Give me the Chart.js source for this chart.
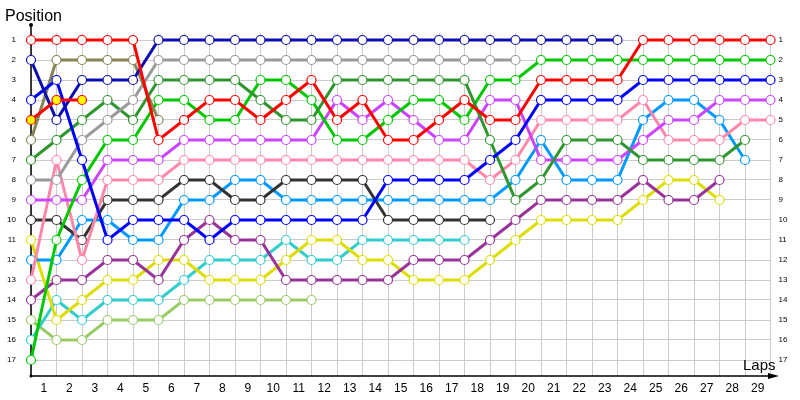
<!DOCTYPE html>
<html>
<head>
<meta charset="utf-8">
<script src="https://cdn.jsdelivr.net/npm/chart.js@4.4.1/dist/chart.umd.min.js"></script>
<style>
  html, body { margin: 0; padding: 0; background: #fff; }
</style>
</head>
<body>
<canvas id="lapChart" width="800" height="400"></canvas>
<script>
// lap index 0 = grid, 1..29 = laps
const laps = [0,1,2,3,4,5,6,7,8,9,10,11,12,13,14,15,16,17,18,19,20,21,22,23,24,25,26,27,28,29];
const positions = [1,2,3,4,5,6,7,8,9,10,11,12,13,14,15,16,17];

const red       = [1,1,1,1,1,6,5,4,4,5,4,3,5,4,6,6,5,4,5,5,3,3,3,3,1,1,1,1,1,1];
const redYellow = [5,4,4];
const navy      = [2,5,3,3,3,1,1,1,1,1,1,1,1,1,1,1,1,1,1,1,1,1,1,1];
const blue      = [4,3,7,11,10,10,10,11,10,10,10,10,10,10,8,8,8,8,7,6,4,4,4,4,3,3,3,3,3,3];
const olive     = [6,2,2,2,2,5];
const gray      = [8,8,6,5,4,2,2,2,2,2,2,2,2,2,2,2,2,2,2,2];
const darkGreen = [7,6,5,4,5,3,3,3,3,4,5,5,3,3,3,3,3,3,6,9,8,6,6,6,7,7,7,7,6];
const green     = [17,11,8,6,6,4,4,5,5,3,3,4,6,6,5,4,4,5,3,3,2,2,2,2,2,2,2,2,2,2];
const violet    = [9,9,9,7,7,7,6,6,6,6,6,6,4,5,4,5,6,6,4,4,7,7,7,7,6,5,5,4,4,4];
const pink      = [13,7,12,8,8,8,7,7,7,7,7,7,7,7,7,7,7,7,8,7,5,5,5,5,4,6,6,6,5,5];
const black     = [10,10,11,9,9,9,8,8,9,9,8,8,8,8,10,10,10,10,10];
const lightBlue = [12,12,10,10,11,11,9,9,8,8,9,9,9,9,9,9,9,9,9,8,6,8,8,8,5,4,4,5,7];
const purple    = [14,13,13,12,12,13,11,10,11,11,13,13,13,13,13,12,12,12,11,10,9,9,9,9,8,9,9,8];
const yellow    = [11,15,14,13,13,12,12,13,13,13,12,11,11,12,12,13,13,13,12,11,10,10,10,10,9,8,8,9];
const turquoise = [16,14,15,14,14,14,13,12,12,12,11,12,12,11,11,11,11,11];
const paleGreen = [15,16,16,15,15,15,14,14,14,14,14,14];

function series(values, color, fill) {
  return {
    data: values.map((p, i) => ({ x: laps[i], y: p })),
    borderColor: color,
    borderWidth: 3,
    pointRadius: 4.5,
    pointHoverRadius: 4.5,
    pointBorderWidth: 1.2,
    pointBorderColor: color,
    pointBackgroundColor: fill || "#ffffff",
    tension: 0,
    clip: false
  };
}

const font = "'Liberation Sans', Arial, sans-serif";

const axisDecor = {
  id: "axisDecor",
  beforeDatasetsDraw(chart) {
    const ctx = chart.ctx;
    const a = chart.chartArea;
    ctx.save();
    ctx.strokeStyle = "#000";
    ctx.fillStyle = "#000";
    ctx.lineWidth = 1.5;
    ctx.beginPath();
    ctx.moveTo(a.left, 25);
    ctx.lineTo(a.left, a.bottom);
    ctx.lineTo(776, a.bottom);
    ctx.stroke();
    ctx.beginPath();
    ctx.arc(a.left, 25, 2, 0, Math.PI * 2);
    ctx.fill();
    ctx.beginPath();
    ctx.arc(a.left, a.bottom, 1.5, 0, Math.PI * 2);
    ctx.fill();
    ctx.beginPath();
    ctx.moveTo(779, a.bottom);
    ctx.lineTo(768, a.bottom - 3);
    ctx.lineTo(768, a.bottom + 3);
    ctx.closePath();
    ctx.fill();
    ctx.restore();
  },
  afterDraw(chart) {
    const ctx = chart.ctx;
    ctx.save();
    ctx.fillStyle = "#000";
    ctx.textBaseline = "alphabetic";
    ctx.font = "16px " + font;
    ctx.fillText("Position", 5, 21);
    ctx.font = "15px " + font;
    ctx.fillText("Laps", 743, 370);
    ctx.restore();
  }
};

new Chart(document.getElementById("lapChart"), {
  type: "line",
  data: {
    datasets: [
      series(red, "#ff0000"),
      series(redYellow, "#ff0000", "#ffff00"),
      series(navy, "#0c0cb0"),
      series(blue, "#0000ff"),
      series(olive, "#858555"),
      series(gray, "#9a9a9a"),
      series(darkGreen, "#2e962e"),
      series(green, "#00c800"),
      series(violet, "#cc44ff"),
      series(pink, "#ff88aa"),
      series(black, "#333333"),
      series(lightBlue, "#0099ff"),
      series(purple, "#993399"),
      series(yellow, "#dddd00"),
      series(turquoise, "#33cccc"),
      series(paleGreen, "#99cc66")
    ]
  },
  options: {
    responsive: false,
    animation: false,
    layout: { padding: { top: 33, left: 0, right: 0, bottom: 0 } },
    plugins: { legend: { display: false }, tooltip: { enabled: false } },
    scales: {
      x: {
        type: "linear",
        min: 0,
        max: 29,
        afterBuildTicks: s => { s.ticks = laps.map(v => ({ value: v })); },
        afterFit: s => { s.height = 24; },
        grid: { color: "#cccccc", drawTicks: false },
        border: { display: false },
        ticks: {
          autoSkip: false,
          maxRotation: 0,
          padding: 5,
          labelOffset: 12.75,
          color: "#000",
          font: { family: font, size: 12 },
          callback: v => (v < 29 ? String(v + 1) : "")
        }
      },
      y: {
        type: "linear",
        position: "left",
        reverse: true,
        min: 0.65,
        max: 17.8,
        afterBuildTicks: s => { s.ticks = positions.map(v => ({ value: v })); },
        afterFit: s => { s.width = 31; },
        grid: { color: "#cccccc", drawTicks: false },
        border: { display: false },
        ticks: { padding: 15, color: "#000", font: { family: font, size: 8 } }
      },
      yRight: {
        type: "linear",
        position: "right",
        reverse: true,
        min: 0.65,
        max: 17.8,
        afterBuildTicks: s => { s.ticks = positions.map(v => ({ value: v })); },
        afterFit: s => { s.width = 29.5; },
        grid: { display: false, drawTicks: false },
        border: { display: false },
        ticks: { padding: 8, color: "#000", font: { family: font, size: 8 } }
      }
    }
  },
  plugins: [axisDecor]
});
</script>
</body>
</html>
